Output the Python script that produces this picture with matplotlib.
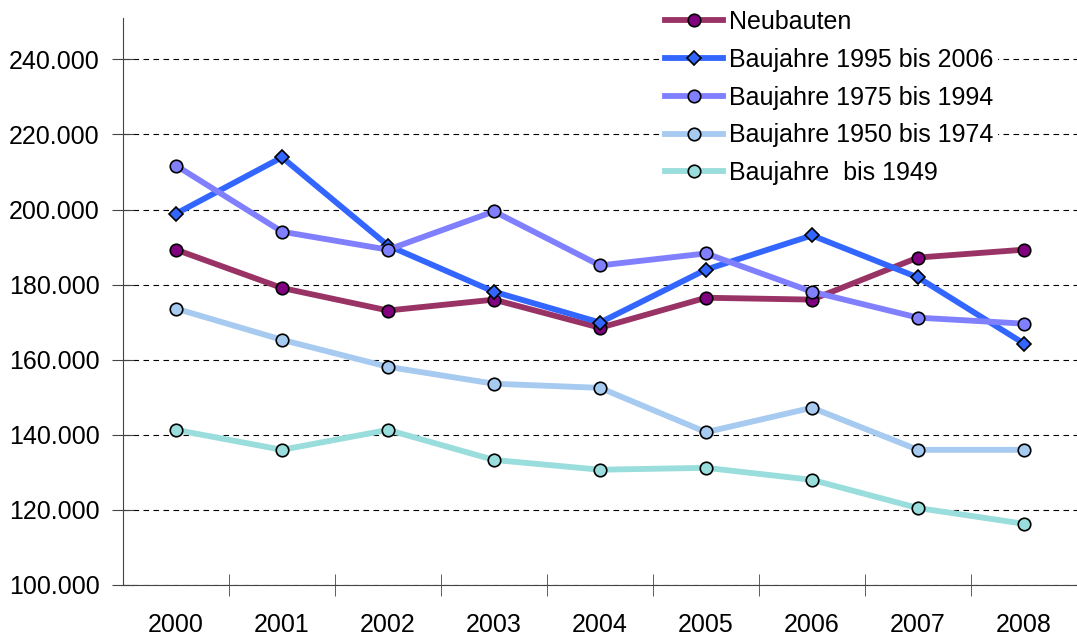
import matplotlib
matplotlib.use('Agg')
import matplotlib.pyplot as plt
from matplotlib.ticker import FuncFormatter, MultipleLocator, FixedLocator

plt.rcParams['font.family'] = ['Liberation Sans', 'DejaVu Sans']

# Daten
jahre = ['2000', '2001', '2002', '2003', '2004', '2005', '2006', '2007', '2008']
neubauten = [189300, 179100, 173100, 176000, 168500, 176500, 176000, 187200, 189300]
bj_1995_2006 = [198900, 213900, 190400, 178100, 169900, 184000, 193100, 181900, 164300]
bj_1975_1994 = [211700, 194100, 189300, 199500, 185100, 188300, 178100, 171200, 169600]
bj_1950_1974 = [173600, 165300, 158100, 153600, 152500, 140700, 147200, 136000, 136000]
bj_bis_1949 = [141300, 136000, 141300, 133300, 130700, 131200, 128000, 120500, 116300]

fig = plt.figure(figsize=(10.77, 6.36), dpi=100)
ax = fig.add_axes([0.1142, 0.0802, 0.8858, 0.8915])

x = range(len(jahre))
# Linie, Markerfarbe, Marker
serien = [
    ('Neubauten', neubauten, '#993366', '#800080', 'o', 9),
    ('Baujahre 1995 bis 2006', bj_1995_2006, '#3366FF', '#3366FF', 'D', 7),
    ('Baujahre 1975 bis 1994', bj_1975_1994, '#8080FF', '#8080FF', 'o', 9),
    ('Baujahre 1950 bis 1974', bj_1950_1974, '#A6CAF0', '#A6CAF0', 'o', 9),
    ('Baujahre  bis 1949', bj_bis_1949, '#99DDDD', '#99DDDD', 'o', 9),
]
for name, werte, farbe, mfarbe, m, ms in serien:
    ax.plot(x, werte, color=farbe, lw=4.2, marker=m, markersize=ms,
            markerfacecolor=mfarbe, markeredgecolor='black', markeredgewidth=1.2,
            label=name, zorder=3)

ax.set_xlim(-0.5, len(jahre) - 0.5)
ax.set_ylim(100000, 251000)

# Achsen
for s in ['top', 'right']:
    ax.spines[s].set_visible(False)
ax.spines['left'].set_color('#444444')
ax.spines['bottom'].set_color('#444444')

ax.yaxis.set_major_locator(MultipleLocator(20000))
ax.yaxis.set_major_formatter(FuncFormatter(lambda v, p: f'{int(v):,}'.replace(',', '.')))
ax.yaxis.grid(True, linestyle=(0, (5, 4)), color='black', lw=0.8)
ax.set_axisbelow(True)

ax.set_xticks(list(x))
ax.set_xticklabels(jahre)
ax.xaxis.set_minor_locator(FixedLocator([i + 0.5 for i in range(len(jahre))]))
ax.tick_params(axis='x', which='major', length=0, pad=20, labelsize=18)
ax.tick_params(axis='x', which='minor', direction='inout', length=16, color='#444444')
ax.tick_params(axis='y', which='major', direction='inout', length=16, pad=9, labelsize=18, color='#444444')

leg = ax.legend(loc='upper left', bbox_to_anchor=(660 / 1077, 1 - 5 / 636),
                bbox_transform=fig.transFigure, borderaxespad=0, frameon=True, fontsize=18,
                handlelength=2.3, labelspacing=0.55, handletextpad=0.25, borderpad=0.2)
leg.get_frame().set_edgecolor('none')
leg.get_frame().set_facecolor('white')
leg.get_frame().set_alpha(1)
leg.set_zorder(5)

fig.savefig('out.png', dpi=100)
